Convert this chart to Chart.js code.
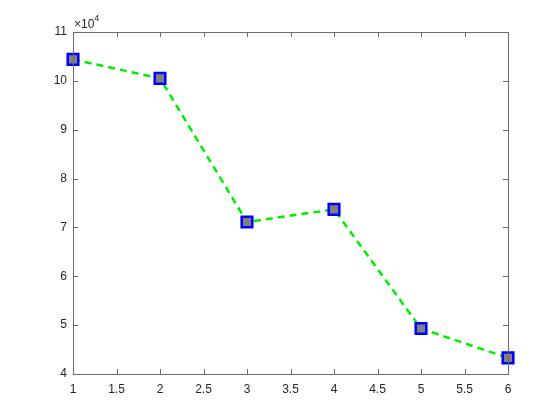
<!DOCTYPE html>
<html>
<head>
<meta charset="utf-8">
<script src="https://cdn.jsdelivr.net/npm/chart.js@4"></script>
<style>
  body { margin: 0; background: #fff; }
  #plot { display: block; }
</style>
</head>
<body>
<canvas id="plot" width="560" height="420"></canvas>
<script>
// Series data
const xValues = [1, 2, 3, 4, 5, 6];
const yValues = [104400, 100500, 71100, 73700, 49300, 43300];

// Axis ranges / ticks
const xMin = 1, xMax = 6, xStep = 0.5;
const yMin = 40000, yMax = 110000, yStep = 10000;
const yExponentLabel = '4';

const axisColor = '#6b6b6b';
const textColor = '#262626';
const fontFamily = '"Liberation Sans", Arial, Helvetica, sans-serif';

// Box around the axes plus inward ticks on all four sides (MATLAB look)
const boxAndTicks = {
    id: 'boxAndTicks',
    afterDatasetsDraw(chart) {
        const { ctx, chartArea: a, scales } = chart;
        const len = 5;
        ctx.save();
        ctx.strokeStyle = axisColor;
        ctx.lineWidth = 1;
        ctx.beginPath();
        scales.x.ticks.forEach(t => {
            const px = Math.round(scales.x.getPixelForValue(t.value)) + 0.5;
            ctx.moveTo(px, a.bottom); ctx.lineTo(px, a.bottom - len);
            ctx.moveTo(px, a.top); ctx.lineTo(px, a.top + len);
        });
        scales.y.ticks.forEach(t => {
            const py = Math.round(scales.y.getPixelForValue(t.value)) + 0.5;
            ctx.moveTo(a.left, py); ctx.lineTo(a.left + len, py);
            ctx.moveTo(a.right, py); ctx.lineTo(a.right - len, py);
        });
        ctx.stroke();
        ctx.strokeRect(Math.round(a.left) + 0.5, Math.round(a.top) + 0.5,
            Math.round(a.right - a.left), Math.round(a.bottom - a.top));

        // exponent label above the y axis
        ctx.fillStyle = textColor;
        ctx.textBaseline = 'alphabetic';
        ctx.textAlign = 'left';
        ctx.font = '12px ' + fontFamily;
        ctx.fillText('\u00d710', a.left + 1, a.top - 4);
        const w = ctx.measureText('\u00d710').width;
        ctx.font = '9px ' + fontFamily;
        ctx.fillText(yExponentLabel, a.left + 1 + w, a.top - 11);
        ctx.restore();
    }
};

const ctx = document.getElementById('plot').getContext('2d');

new Chart(ctx, {
    type: 'line',
    data: {
        datasets: [{
            data: xValues.map((x, i) => ({ x: x, y: yValues[i] })),
            borderColor: '#00ee00',
            borderWidth: 2.5,
            borderDash: [7, 5],
            tension: 0,
            fill: false,
            clip: false,
            pointStyle: 'rect',
            pointRadius: 7.5,
            pointHoverRadius: 7.5,
            pointBackgroundColor: '#808080',
            pointBorderColor: '#0000ff',
            pointBorderWidth: 2.5
        }]
    },
    options: {
        responsive: false,
        animation: false,
        layout: { padding: { top: 32, right: 52, left: 0, bottom: 0 } },
        plugins: {
            legend: { display: false },
            tooltip: { enabled: false }
        },
        scales: {
            x: {
                type: 'linear',
                min: xMin,
                max: xMax,
                grid: { display: false, drawTicks: false },
                border: { display: false },
                ticks: {
                    stepSize: xStep,
                    padding: 8,
                    color: textColor,
                    font: { family: fontFamily, size: 12 },
                    maxRotation: 0,
                    callback: v => String(v)
                },
                afterFit(scale) { scale.height = 46; }
            },
            y: {
                min: yMin,
                max: yMax,
                grid: { display: false, drawTicks: false },
                border: { display: false },
                ticks: {
                    stepSize: yStep,
                    padding: 6,
                    color: textColor,
                    font: { family: fontFamily, size: 12 },
                    callback: v => String(v / 10000)
                },
                afterFit(scale) { scale.width = 73; }
            }
        }
    },
    plugins: [boxAndTicks]
});
</script>
</body>
</html>
